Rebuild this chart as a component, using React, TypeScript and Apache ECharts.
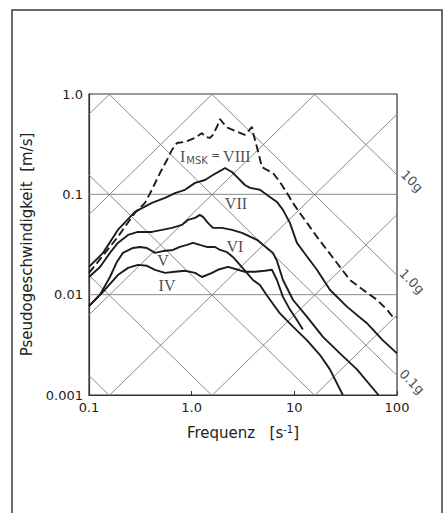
import React, { useEffect, useRef } from 'react';
import * as echarts from 'echarts';

// Tick labels
const xTickLabels = ['0.1', '1.0', '10', '100'];
const yTickLabels = ['0.001', '0.01', '0.1', '1.0'];
const hGridValues = [0.1, 0.01];

// Curves: frequency [1/s] and pseudo velocity [m/s]
const freqIV = [0.1, 0.143, 0.191, 0.24, 0.30, 0.367, 0.439, 0.55, 0.688, 0.861, 1.08, 1.26, 1.58, 1.80, 2.26, 2.82, 3.30, 4.13, 5.17, 6.05, 6.77, 7.75, 9.06, 10.6, 12.1];
const velIV = [0.0077, 0.0112, 0.0157, 0.0185, 0.0198, 0.0194, 0.0177, 0.0165, 0.0169, 0.0173, 0.0165, 0.0150, 0.0165, 0.0177, 0.0189, 0.0177, 0.0169, 0.0169, 0.0173, 0.0177, 0.0140, 0.0095, 0.0071, 0.0056, 0.0045];

const freqV = [0.1, 0.128, 0.16, 0.187, 0.214, 0.268, 0.314, 0.367, 0.439, 0.526, 0.658, 0.769, 0.90, 1.03, 1.20, 1.40, 1.69, 1.89, 2.21, 2.52, 2.95, 3.45, 3.95, 4.62, 5.41, 7.24, 9.69, 13.3, 17.8, 22.2, 29.7];
const velV = [0.0077, 0.0100, 0.0150, 0.0212, 0.0261, 0.0292, 0.0299, 0.0292, 0.0261, 0.0272, 0.0279, 0.0299, 0.0313, 0.0328, 0.0313, 0.0299, 0.0299, 0.0279, 0.0265, 0.0238, 0.0198, 0.0165, 0.0140, 0.0125, 0.0098, 0.0065, 0.0048, 0.0035, 0.0025, 0.0018, 0.001];

const freqVI = [0.1, 0.128, 0.16, 0.191, 0.24, 0.30, 0.41, 0.514, 0.643, 0.805, 0.92, 1.08, 1.20, 1.29, 1.44, 1.61, 1.97, 2.47, 3.09, 4.32, 5.41, 6.19, 6.77, 7.75, 9.69, 13.3, 19.0, 27.8, 40.7, 66];
const velVI = [0.0150, 0.0189, 0.0261, 0.0328, 0.0394, 0.0422, 0.0422, 0.0442, 0.0463, 0.0496, 0.0556, 0.0582, 0.0624, 0.0596, 0.0519, 0.0463, 0.0463, 0.0442, 0.0413, 0.0352, 0.0292, 0.0261, 0.0217, 0.0140, 0.0089, 0.0060, 0.0038, 0.0026, 0.0018, 0.001];

const freqVII = [0.1, 0.137, 0.191, 0.28, 0.41, 0.55, 0.688, 0.861, 1.08, 1.35, 1.61, 1.97, 2.11, 2.47, 2.82, 3.30, 3.70, 4.62, 5.78, 6.77, 7.75, 9.06, 10.6, 12.9, 16.6, 22.2, 32.5, 50.9, 72.9, 100];
const velVII = [0.0189, 0.0261, 0.0442, 0.0668, 0.0821, 0.0921, 0.103, 0.111, 0.130, 0.139, 0.156, 0.175, 0.183, 0.167, 0.146, 0.124, 0.116, 0.111, 0.0942, 0.084, 0.070, 0.0519, 0.0328, 0.025, 0.0177, 0.0112, 0.0076, 0.0052, 0.0035, 0.0026];

const freqVIII = [0.1, 0.122, 0.191, 0.28, 0.351, 0.41, 0.491, 0.575, 0.643, 0.719, 0.861, 1.08, 1.26, 1.35, 1.51, 1.61, 1.76, 1.89, 2.02, 2.26, 2.82, 3.30, 3.87, 3.95, 4.32, 4.84, 5.41, 6.19, 7.24, 8.48, 9.69, 11.3, 13.3, 16.6, 20.8, 26.0, 34.8, 46.6, 63.7, 79.8, 91.2, 100];
const velVIII = [0.0165, 0.0212, 0.0377, 0.0653, 0.0821, 0.111, 0.163, 0.220, 0.277, 0.325, 0.333, 0.365, 0.409, 0.373, 0.365, 0.391, 0.469, 0.564, 0.514, 0.459, 0.418, 0.391, 0.469, 0.418, 0.297, 0.187, 0.175, 0.163, 0.133, 0.103, 0.0821, 0.0653, 0.0519, 0.0377, 0.0279, 0.0207, 0.0140, 0.0112, 0.0089, 0.0071, 0.0060, 0.0059];

// Tripartite grid: constant acceleration (in g) and constant displacement (in m)
const accelLinesG = [0.0001, 0.001, 0.01, 0.1, 1, 10];
const dispLinesM = [0.00001, 0.0001, 0.001, 0.01, 0.1, 1];
const accelLabelValues = [10, 1, 0.1];
const accelLabelTexts = ['10g', '1.0g', '0.1g'];

// Curve annotations (placed in data coordinates)
const curveLabelTexts = ['VII', 'VI', 'V', 'IV'];
const curveLabelFreq = [2.70, 2.64, 0.525, 0.575];
const curveLabelVel = [0.0802, 0.0299, 0.0217, 0.01224];
const mskLabelFreq = 1.70;
const mskLabelVel = 0.240;

const G = 9.81;
const X_MIN = 0.1, X_MAX = 100, Y_MIN = 0.001, Y_MAX = 1;

function zip(f: number[], v: number[]) {
  return f.map((x, i) => [x, v[i]]);
}

function accelSegment(aG: number) {
  const c = Math.log10((aG * G) / (2 * Math.PI));
  const u1 = Math.max(Math.log10(X_MIN), c + Math.log10(1 / Y_MAX) * 1 + 0);
  const lo = Math.max(Math.log10(X_MIN), c - Math.log10(Y_MAX));
  const hi = Math.min(Math.log10(X_MAX), c - Math.log10(Y_MIN));
  void u1;
  if (lo >= hi) return null;
  return [[Math.pow(10, lo), Math.pow(10, c - lo)], [Math.pow(10, hi), Math.pow(10, c - hi)]];
}

function dispSegment(d: number) {
  const c = Math.log10(2 * Math.PI * d);
  const lo = Math.max(Math.log10(X_MIN), Math.log10(Y_MIN) - c);
  const hi = Math.min(Math.log10(X_MAX), Math.log10(Y_MAX) - c);
  if (lo >= hi) return null;
  return [[Math.pow(10, lo), Math.pow(10, lo + c)], [Math.pow(10, hi), Math.pow(10, hi + c)]];
}

function accelVel(aG: number, f: number) {
  return (aG * G) / (2 * Math.PI * f);
}

export default function App() {
  const ref = useRef<HTMLDivElement>(null);

  useEffect(() => {
    if (!ref.current) return;
    const chart = echarts.init(ref.current, undefined, { renderer: 'svg' });

    const gridStyle = { color: '#8a8a8a', width: 1 };
    const curveColor = '#1c1c1c';
    const series: any[] = [];

    accelLinesG.forEach((a) => {
      const seg = accelSegment(a);
      if (seg) series.push({ type: 'line', data: seg, symbol: 'none', silent: true, lineStyle: gridStyle, z: 1 });
    });
    dispLinesM.forEach((d) => {
      const seg = dispSegment(d);
      if (seg) series.push({ type: 'line', data: seg, symbol: 'none', silent: true, lineStyle: gridStyle, z: 1 });
    });
    hGridValues.forEach((v) => {
      series.push({ type: 'line', data: [[X_MIN, v], [X_MAX, v]], symbol: 'none', silent: true, lineStyle: gridStyle, z: 1 });
    });
    // extensions of labelled acceleration lines beyond the right border
    accelLabelValues.forEach((a) => {
      series.push({
        type: 'line', clip: false, symbol: 'none', silent: true, lineStyle: gridStyle, z: 1,
        data: [[X_MAX, accelVel(a, X_MAX)], [180, accelVel(a, 180)]],
      });
    });
    series.push({
      type: 'scatter', clip: false, symbolSize: 0, silent: true, z: 5,
      data: accelLabelValues.map((a, i) => ({
        value: [140, accelVel(a, 140) * Math.pow(10, 0.085)],
        name: accelLabelTexts[i],
      })),
      label: {
        show: true, position: 'inside', rotate: -45, formatter: '{b}',
        fontFamily: 'DejaVu Sans', fontSize: 13, color: '#222',
      },
    });

    const curves: [number[], number[], boolean][] = [
      [freqIV, velIV, false],
      [freqV, velV, false],
      [freqVI, velVI, false],
      [freqVII, velVII, false],
      [freqVIII, velVIII, true],
    ];
    curves.forEach(([f, v, dashed]) => {
      series.push({
        type: 'line', data: zip(f, v), symbol: 'none', silent: true, z: 3,
        lineStyle: { color: curveColor, width: 1.9, type: dashed ? [8, 4] : 'solid' },
      });
    });

    series.push({
      type: 'scatter', clip: false, symbolSize: 0, silent: true, z: 6,
      data: curveLabelTexts.map((t, i) => ({ value: [curveLabelFreq[i], curveLabelVel[i]], name: t })),
      label: {
        show: true, position: 'inside', formatter: '{b}',
        fontFamily: 'Liberation Serif', fontSize: 16, color: '#1c1c1c',
      },
    });
    series.push({
      type: 'scatter', clip: false, symbolSize: 0, silent: true, z: 6,
      data: [{ value: [mskLabelFreq, mskLabelVel], name: 'msk' }],
      label: {
        show: true, position: 'inside',
        formatter: '{a|I}{b|MSK}{c|=}{d|VIII}',
        rich: {
          a: { fontFamily: 'Liberation Serif', fontSize: 16, color: '#1c1c1c', lineHeight: 18 },
          b: { fontFamily: 'DejaVu Sans', fontSize: 10, color: '#1c1c1c', verticalAlign: 'bottom', lineHeight: 10, padding: [0, 0, 0, 1] },
          c: { fontFamily: 'DejaVu Sans', fontSize: 11, color: '#1c1c1c', padding: [0, 3, 2, 3] },
          d: { fontFamily: 'Liberation Serif', fontSize: 16, color: '#1c1c1c', lineHeight: 18 },
        },
      },
    });

    chart.setOption({
      animation: false,
      backgroundColor: '#ffffff',
      grid: {
        left: 89, top: 94, width: 308, height: 301,
        show: true, borderColor: '#333', borderWidth: 1.2, backgroundColor: 'transparent',
      },
      xAxis: {
        type: 'log', logBase: 10, min: X_MIN, max: X_MAX,
        axisLine: { show: true, lineStyle: { color: '#333', width: 1.2 } },
        axisTick: { show: true, inside: true, length: 4, lineStyle: { color: '#333', width: 1 } },
        splitLine: { show: false },
        minorTick: { show: false },
        axisLabel: {
          margin: 6, fontFamily: 'DejaVu Sans', fontSize: 13, color: '#222',
          formatter: (val: number) => xTickLabels[Math.round(Math.log10(val)) + 1] ?? '',
        },
        name: 'Frequenz   [s{sup|-1}]',
        nameLocation: 'middle', nameGap: 29,
        nameTextStyle: {
          fontFamily: 'DejaVu Sans', fontSize: 15, color: '#222',
          rich: { sup: { fontFamily: 'DejaVu Sans', fontSize: 10, color: '#222', verticalAlign: 'top', padding: [0, 0, 7, 0] } },
        },
      },
      yAxis: {
        type: 'log', logBase: 10, min: Y_MIN, max: Y_MAX,
        axisLine: { show: true, lineStyle: { color: '#333', width: 1.2 } },
        axisTick: { show: false },
        splitLine: { show: false },
        axisLabel: {
          margin: 6, fontFamily: 'DejaVu Sans', fontSize: 13, color: '#222',
          formatter: (val: number) => yTickLabels[Math.round(Math.log10(val)) + 3] ?? '',
        },
        name: 'Pseudogeschwindigkeit  [m/s]',
        nameLocation: 'middle', nameGap: 50,
        nameTextStyle: { fontFamily: 'DejaVu Sans', fontSize: 15, color: '#222' },
      },
      graphic: [
        {
          type: 'rect', silent: true,
          shape: { x: 12, y: 10, width: 430, height: 520 },
          style: { fill: 'none', stroke: '#3a3a3a', lineWidth: 1.5 },
        },
      ],
      series,
    });

    return () => chart.dispose();
  }, []);

  return (
    <div
      ref={ref}
      style={{ position: 'fixed', left: 0, top: 0, width: 444, height: 513, background: '#fff' }}
    />
  );
}
